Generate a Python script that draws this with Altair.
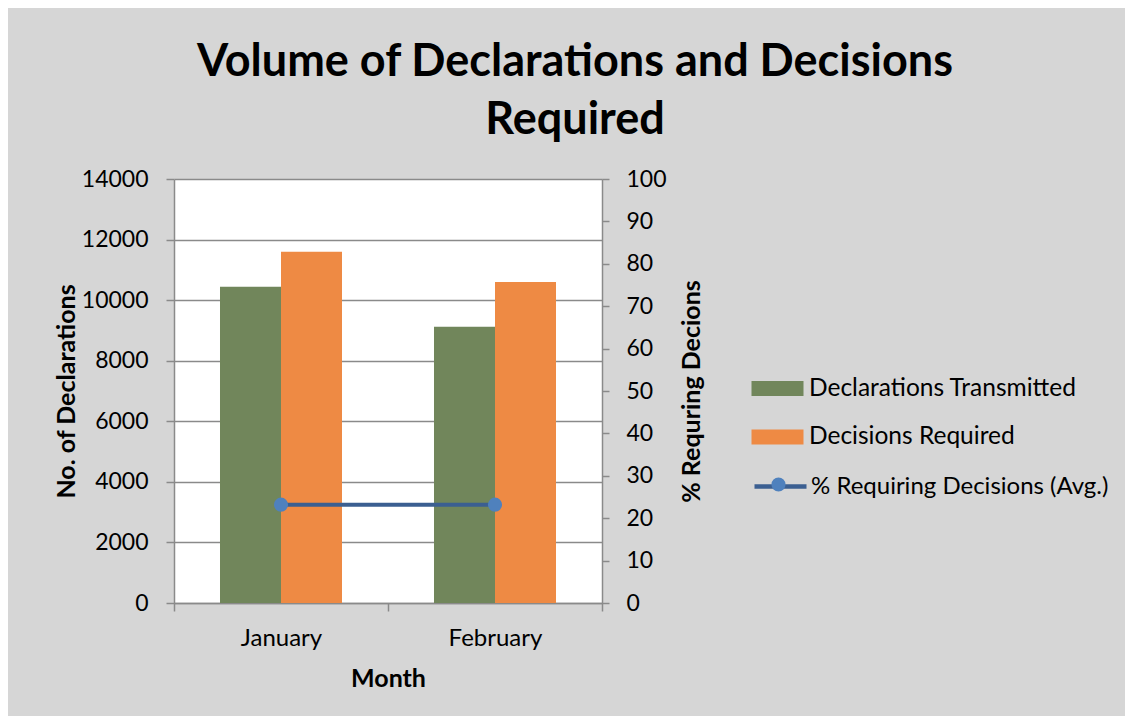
import altair as alt
import pandas as pd

months = ["January", "February"]
declarations = [10440, 9120]
decisions = [11600, 10600]
pct_avg = [23.2, 23.2]

series_names = ["Declarations Transmitted", "Decisions Required", "% Requiring Decisions (Avg.)"]
bar_colors = ["#71865B", "#EE8A44"]
line_color = "#3B5F91"
point_color = "#4F81BD"

bar_rows = []
for m, d1, d2 in zip(months, declarations, decisions):
    bar_rows.append({"month": m, "series": series_names[0], "value": d1})
    bar_rows.append({"month": m, "series": series_names[1], "value": d2})
bars_df = pd.DataFrame(bar_rows)
line_df = pd.DataFrame({"month": months, "pct": pct_avg,
                        "lname": [series_names[2]] * len(months),
                        "pname": ["marker"] * len(months)})

FONT = "Lato"
GRID = "#8A8A8A"

x_enc = alt.X(
    "month:N",
    sort=months,
    scale=alt.Scale(paddingInner=0, paddingOuter=0),
    axis=alt.Axis(
        title="Month", tickBand="extent", labelAngle=0, tickSize=8,
        tickColor=GRID, domainColor=GRID, tickWidth=1.5, domainWidth=1.5,
        labelFont=FONT, labelFontSize=24, labelColor="black", labelPadding=15,
        titleFont=FONT, titleFontSize=25, titleFontWeight="bold", titleColor="black",
        titlePadding=16, grid=False,
    ),
)

bar_symbol = "M-1.6,-0.46H1.6V0.46H-1.6Z"

bars = alt.Chart(bars_df).mark_bar().encode(
    x=x_enc,
    xOffset=alt.XOffset("series:N", sort=series_names[:2],
                        scale=alt.Scale(paddingInner=0, paddingOuter=0.754)),
    y=alt.Y(
        "value:Q",
        scale=alt.Scale(domain=[0, 14000], nice=False),
        axis=alt.Axis(
            title="No. of Declarations", values=list(range(0, 14001, 2000)), format="d",
            grid=True, gridColor=GRID, gridWidth=1.5, tickSize=8, tickColor=GRID,
            tickWidth=1.5, domainColor=GRID, domainWidth=1.5,
            labelFont=FONT, labelFontSize=23, labelColor="black", labelPadding=18,
            titleFont=FONT, titleFontSize=25, titleFontWeight="bold", titleColor="black",
            titlePadding=2,
        ),
    ),
    color=alt.Color(
        "series:N",
        scale=alt.Scale(domain=series_names[:2], range=bar_colors),
        legend=alt.Legend(
            title=None, orient="none", legendX=587, legendY=193,
            symbolType=bar_symbol, symbolSize=1056, symbolStrokeWidth=0,
            labelFont=FONT, labelFontSize=24.5, labelColor="black", labelLimit=500,
            labelOffset=15, rowPadding=20.5, padding=0,
        ),
    ),
)

y_right = alt.Y(
    "pct:Q",
    scale=alt.Scale(domain=[0, 100], nice=False),
    axis=alt.Axis(
        title="% Requring Decions", orient="right", values=list(range(0, 101, 10)),
        grid=False, tickSize=7, tickColor=GRID, tickWidth=1.5, domainColor=GRID,
        domainWidth=1.5, labelFont=FONT, labelFontSize=23, labelColor="black",
        labelPadding=17, titleFont=FONT, titleFontSize=25, titleFontWeight="bold",
        titleColor="black", titlePadding=38, titleAngle=270,
    ),
)

line = alt.Chart(line_df).mark_line(strokeWidth=4).encode(
    x=x_enc, y=y_right,
    stroke=alt.Stroke("lname:N", scale=alt.Scale(domain=[series_names[2]], range=[line_color]),
                      legend=alt.Legend(
                          title=None, orient="none", legendX=578, legendY=279,
                          symbolType="stroke", symbolSize=2704, symbolStrokeWidth=4.5,
                          labelFont=FONT, labelFontSize=24, labelColor="black",
                          labelLimit=500, labelOffset=2, padding=0,
                      )),
)
points = alt.Chart(line_df).mark_point(filled=True, size=200, opacity=1).encode(
    x=x_enc, y=y_right,
    fill=alt.Fill("pname:N", scale=alt.Scale(domain=["marker"], range=[point_color]),
                  legend=alt.Legend(
                      title=None, orient="none", legendX=597, legendY=298,
                      symbolType="circle", symbolSize=200, symbolStrokeWidth=0,
                      symbolOpacity=1, labelExpr="''", padding=0,
                  )),
)

chart = alt.layer(bars, alt.layer(line, points)).resolve_scale(y="independent").properties(
    width=428,
    height=424,
    autosize=alt.AutoSizeParams(type="none"),
    padding={"left": 166, "top": 171, "right": 523, "bottom": 113},
    background="#D6D6D6",
    title=alt.TitleParams(
        text=["Volume of Declarations and Decisions", "Required"],
        font=FONT, fontSize=45, fontWeight="bold", color="black",
        anchor="middle", frame="group", dx=187, offset=25, lineHeight=58,
    ),
).configure_view(fill="white", stroke=None)

chart.save("out.html", embed_options={"renderer": "svg", "actions": False})
